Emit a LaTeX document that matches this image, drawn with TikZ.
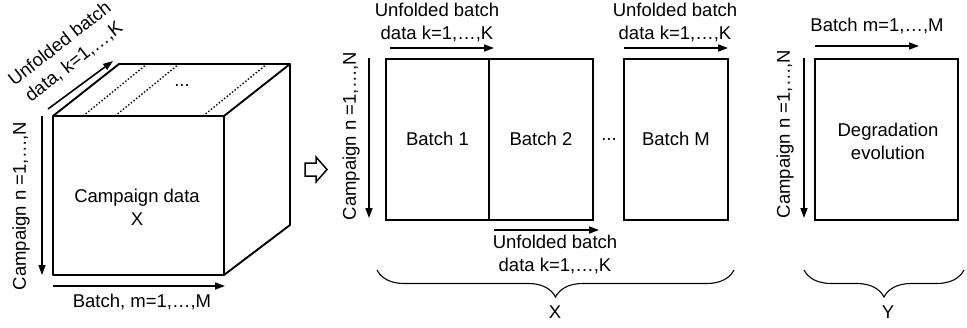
\documentclass[tikz,border=0pt]{standalone}
\usepackage{fontspec}
\setmainfont{Liberation Sans}
\usetikzlibrary{arrows.meta,decorations.pathreplacing}
\tikzset{
  box/.style={draw, line width=1.9pt},
  axis/.style={line width=1.6pt, -{Triangle[length=10pt,width=7pt]}},
  lbl/.style={font=\fontsize{18.5}{23}\selectfont, align=center, inner sep=0pt},
  brc/.style={decorate, decoration={brace, mirror, amplitude=27pt}, line width=1.1pt},
}
\begin{document}
\begin{tikzpicture}[x=1pt,y=-1pt]
\useasboundingbox (0,0) rectangle (967,327);
% cube
\coordinate (f1) at (53,116); \coordinate (f2) at (224,116);
\coordinate (f3) at (224,275); \coordinate (f4) at (53,275);
\coordinate (b1) at (119,64); \coordinate (b2) at (290,64); \coordinate (b3) at (290,225);
\draw[box, line join=round] (f1) -- (f2) -- (f3) -- (f4) -- cycle;
\draw[box, line join=round] (f1) -- (b1) -- (b2) -- (f2) (b2) -- (b3) -- (f3);
\foreach \a/\b in {83/147,115/179,203/267}
  \draw[dotted, line width=1.4pt] (\a,116) -- (\b,64);
\node[lbl] (dots0) at (182,86) {...};
\node[lbl] (cdata) at (137,207) {Campaign data\\X};
\coordinate (ka) at (48,109); \coordinate (kb) at (113,61);
\draw[axis] (ka) -- (kb);
\node[lbl, rotate=38] (klbl) at (67,53) {Unfolded batch\\data, k=1,\dots,K};
\coordinate (na) at (42,116); \coordinate (nb) at (42,275);
\draw[axis] (na) -- (nb);
\node[lbl, rotate=90] (nlbl) at (21,206) {Campaign n =1,\dots,N};
\coordinate (ma) at (53,286); \coordinate (mb) at (225,286);
\draw[axis] (ma) -- (mb);
\node[lbl] (mlbl) at (142,302) {Batch, m=1,\dots,M};
% hollow arrow
\coordinate (ha) at (305,163);
\draw[line width=1.5pt, line join=miter] (ha) -- (316,163) -- (316,157) -- (327,169.5) -- (316,182) -- (316,176) -- (305,176) -- cycle;
% middle panel
\node[box, minimum width=103pt, minimum height=161pt, anchor=north west, inner sep=0pt] (bt1) at (385,58) {};
\node[box, minimum width=104pt, minimum height=161pt, anchor=north west, inner sep=0pt] (bt2) at (488,58) {};
\node[box, minimum width=104pt, minimum height=161pt, anchor=north west, inner sep=0pt] (btm) at (623,58) {};
\node[lbl] (t1) at ([yshift=1pt]bt1.center) {Batch 1};
\node[lbl] (t2) at ([yshift=1pt]bt2.center) {Batch 2};
\node[lbl] (tm) at ([yshift=1pt]btm.center) {Batch M};
\node[lbl] (dots1) at (609,140) {...};
\coordinate (u1a) at (390,48); \coordinate (u1b) at (494,48);
\draw[axis] (u1a) -- (u1b);
\node[lbl] (u1) at (437,22) {Unfolded batch\\data k=1,\dots,K};
\coordinate (u2a) at (624,48); \coordinate (u2b) at (728,48);
\draw[axis] (u2a) -- (u2b);
\node[lbl] (u2) at (675,22) {Unfolded batch\\data k=1,\dots,K};
\coordinate (u3a) at (494,230); \coordinate (u3b) at (599,230);
\draw[axis] (u3a) -- (u3b);
\node[lbl] (u3) at (555,254) {Unfolded batch\\data k=1,\dots,K};
\coordinate (n2a) at (369,58); \coordinate (n2b) at (369,218);
\draw[axis] (n2a) -- (n2b);
\node[lbl, rotate=90] (n2) at (351,136) {Campaign n =1,\dots,N};
\coordinate (xa) at (377,270); \coordinate (xb) at (734,270);
\draw[brc] (xa) -- (xb);
\node[lbl] (xl) at (555,312) {X};
% right panel
\node[box, minimum width=143pt, minimum height=161pt, anchor=north west, inner sep=0pt] (deg) at (814,58) {};
\node[lbl] (degt) at (888,141) {Degradation\\evolution};
\coordinate (ba) at (815,46); \coordinate (bb) at (919,46);
\draw[axis] (ba) -- (bb);
\node[lbl] (bl) at (877,26) {Batch m=1,\dots,M};
\coordinate (n3a) at (804,58); \coordinate (n3b) at (804,218);
\draw[axis] (n3a) -- (n3b);
\node[lbl, rotate=90] (n3) at (785,134) {Campaign n =1,\dots,N};
\coordinate (ya) at (804,270); \coordinate (yb) at (964,270);
\draw[brc] (ya) -- (yb);
\node[lbl] (yl) at (888,312) {Y};
\end{tikzpicture}
\end{document}
